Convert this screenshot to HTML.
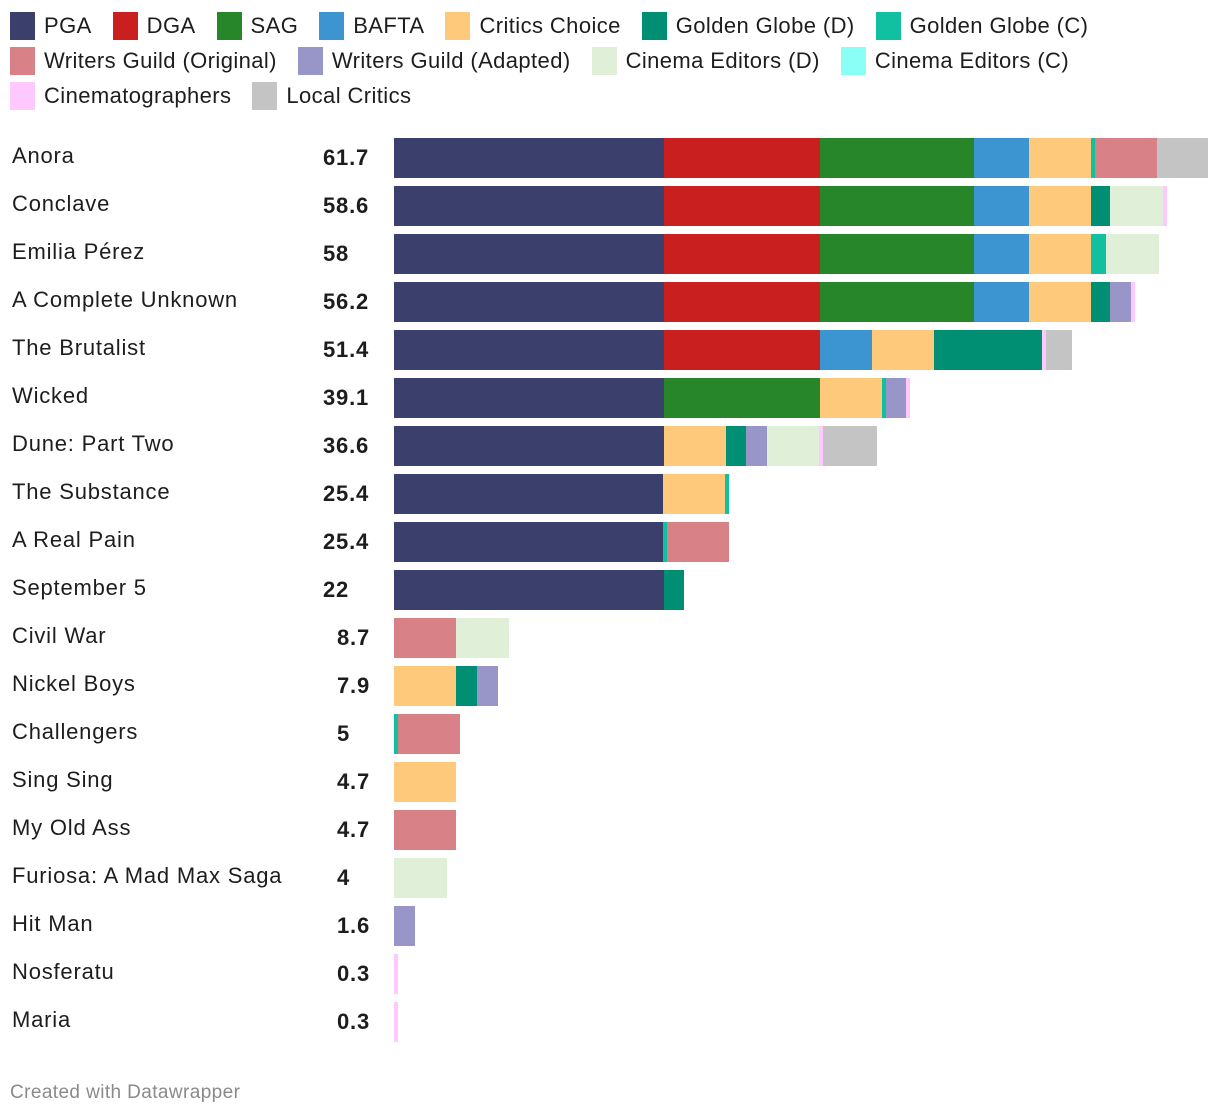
<!DOCTYPE html>
<html><head><meta charset="utf-8">
<style>
body{margin:0;background:#fff;font-family:"Liberation Sans",Roboto,sans-serif;color:#1d1d1d;}
#wrap{position:relative;width:1220px;height:1118px;overflow:hidden;}
.leg{position:absolute;height:28px;display:flex;align-items:center;font-size:22px;letter-spacing:0.4px;white-space:nowrap;}
.sw{width:25px;height:28px;margin-right:9px;display:inline-block;}
.lab{position:absolute;left:12px;font-size:22px;letter-spacing:0.8px;line-height:40px;}
.val{position:absolute;font-size:22px;letter-spacing:0.8px;font-weight:bold;line-height:40px;}
.seg{position:absolute;height:40px;}
#foot{position:absolute;left:10px;top:1082px;font-size:19px;letter-spacing:0.4px;color:#8a8a8a;}
</style></head>
<body>
<div id="wrap">
<div id="legend"></div>
<div id="rows"></div>
<div id="foot">Created with Datawrapper</div>
</div>
<script>
const seriesNames=["PGA","DGA","SAG","BAFTA","Critics Choice","Golden Globe (D)","Golden Globe (C)","Writers Guild (Original)","Writers Guild (Adapted)","Cinema Editors (D)","Cinema Editors (C)","Cinematographers","Local Critics"];
const seriesColors=["#3b3f6b","#c91f1f","#27862a","#3c94d0","#fec97a","#008f72","#10c0a0","#d88287","#9896c8","#e0f0d8","#8afff5","#ffc8ff","#c4c4c4"];
const categories=["Anora","Conclave","Emilia Pérez","A Complete Unknown","The Brutalist","Wicked","Dune: Part Two","The Substance","A Real Pain","September 5","Civil War","Nickel Boys","Challengers","Sing Sing","My Old Ass","Furiosa: A Mad Max Saga","Hit Man","Nosferatu","Maria"];
const totals=[61.7,58.6,58,56.2,51.4,39.1,36.6,25.4,25.4,22,8.7,7.9,5,4.7,4.7,4,1.6,0.3,0.3];
// order: PGA,DGA,SAG,BAFTA,CC,GGD,GGC,WGO,WGA,CED,CEC,Cin,Local
const values=[
[20.5,11.8,11.7,4.1,4.7,0,0.3,4.7,0,0,0,0,3.9],
[20.5,11.8,11.7,4.1,4.7,1.5,0,0,0,4.0,0,0.3,0],
[20.5,11.8,11.7,4.1,4.7,0,1.2,0,0,4.0,0,0,0],
[20.5,11.8,11.7,4.1,4.7,1.5,0,0,1.6,0,0,0.3,0],
[20.5,11.8,0,3.9,4.7,8.2,0,0,0,0,0,0.3,2.0],
[20.5,0,11.8,0,4.7,0,0.3,0,1.5,0,0,0.3,0],
[20.5,0,0,0,4.7,1.5,0,0,1.6,3.9,0,0.3,4.1],
[20.4,0,0,0,4.7,0,0.3,0,0,0,0,0,0],
[20.4,0,0,0,0,0,0.3,4.7,0,0,0,0,0],
[20.5,0,0,0,0,1.5,0,0,0,0,0,0,0],
[0,0,0,0,0,0,0,4.7,0,4.0,0,0,0],
[0,0,0,0,4.7,1.6,0,0,1.6,0,0,0,0],
[0,0,0,0,0,0,0.3,4.7,0,0,0,0,0],
[0,0,0,0,4.7,0,0,0,0,0,0,0,0],
[0,0,0,0,0,0,0,4.7,0,0,0,0,0],
[0,0,0,0,0,0,0,0,0,4.0,0,0,0],
[0,0,0,0,0,0,0,0,1.6,0,0,0,0],
[0,0,0,0,0,0,0,0,0,0,0,0.3,0],
[0,0,0,0,0,0,0,0,0,0,0,0.3,0]];
const legendRows=[[0,1,2,3,4,5,6],[7,8,9,10],[11,12]];

const x0=394, xScale=v=>v*814/61.7;
const rowY=i=>138+i*48;

const leg=document.getElementById('legend');
legendRows.forEach((r,ri)=>{
  let lx=10;
  r.forEach(si=>{
    const d=document.createElement('div');
    d.className='leg';
    
    
    d.style.left=lx+'px';d.style.top=(12+ri*35)+'px';
    d.innerHTML='<span class="sw" style="background:'+seriesColors[si]+'"></span>'+seriesNames[si];
    leg.appendChild(d);
    lx+=d.getBoundingClientRect().width+21;
  });
});

const rows=document.getElementById('rows');
categories.forEach((c,i)=>{
  const y=rowY(i);
  const l=document.createElement('div');
  l.className='lab';l.style.top=(y-2)+'px';l.textContent=c;
  
  
  rows.appendChild(l);
  const v=document.createElement('div');
  v.className='val';v.style.top=(y)+'px';v.style.left=(totals[i]>=10?323:337)+'px';
  v.textContent=totals[i];
  
  
  rows.appendChild(v);
  let acc=0;
  values[i].forEach((val,si)=>{
    if(!val) return;
    const s=document.createElement('div');
    s.className='seg';
    
    
    s.style.left=(x0+xScale(acc))+'px';
    s.style.width=xScale(val)+'px';
    s.style.top=y+'px';
    s.style.background=seriesColors[si];
    s.title=c+' – '+seriesNames[si]+': '+val;
    rows.appendChild(s);
    acc+=val;
  });
});
</script>
</body></html>
